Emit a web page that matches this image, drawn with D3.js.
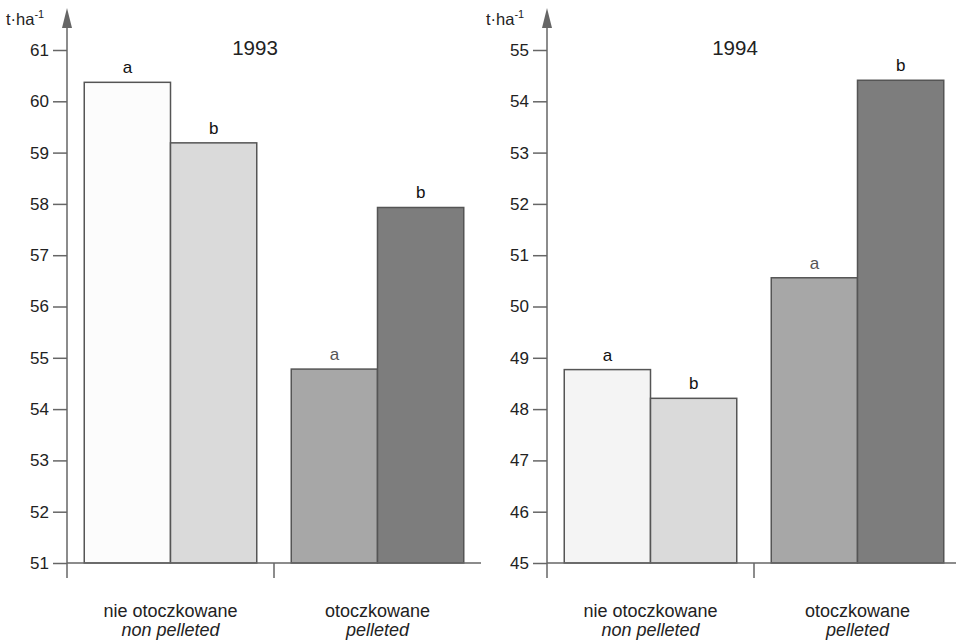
<!DOCTYPE html>
<html>
<head>
<meta charset="utf-8">
<script src="https://cdn.jsdelivr.net/npm/d3@7"></script>
<style>
  body { margin: 0; background: #fff; }
  svg { display: block; font-family: "Liberation Sans", Arial, sans-serif; }
</style>
</head>
<body>
<script>
// groups of seed treatment (PL / EN)
const groupsPl = ['nie otoczkowane', 'otoczkowane'];
const groupsEn = ['non pelleted', 'pelleted'];
const bars = ['g1a', 'g1b', 'g2a', 'g2b'];

const years = ['1993', '1994'];
const values1993 = [60.37, 59.19, 54.78, 57.93];
const values1994 = [48.77, 48.21, 50.56, 54.41];
const letters1993 = ['a', 'b', 'a', 'b'];
const letters1994 = ['a', 'b', 'a', 'b'];
const ticks1993 = [51, 52, 53, 54, 55, 56, 57, 58, 59, 60, 61];
const ticks1994 = [45, 46, 47, 48, 49, 50, 51, 52, 53, 54, 55];

const fills = ['#fcfcfc', '#dadada', '#a7a7a7', '#7d7d7d'];
const fills1994 = ['#f4f4f4', '#dadada', '#a7a7a7', '#7d7d7d'];

const width = 960;
const height = 640;
const axisCol = '#666';
const fontFam = '"Liberation Sans", Arial, sans-serif';

const svg = d3.select('body')
  .append('svg')
  .attr('width', width)
  .attr('height', height);

function drawPanel(opts) {
  const { left, yDomain, ticks, values, letters, title, colors } = opts;
  const top = 50;
  const bottom = 563;
  const g = svg.append('g');

  const y = d3.scaleLinear().domain(yDomain).range([bottom, top]);

  const x0 = d3.scaleBand()
    .domain(groupsPl)
    .range([left, left + 414])
    .paddingInner(0)
    .paddingOuter(0);

  const x1 = d3.scaleBand()
    .domain([0, 1])
    .range([0, x0.bandwidth()])
    .paddingOuter(0.2)
    .paddingInner(0);

  const data = values.map((v, i) => ({
    key: bars[i],
    group: groupsPl[Math.floor(i / 2)],
    sub: i % 2,
    value: v,
    letter: letters[i],
    fill: colors[i],
  }));

  // bars
  g.selectAll('rect.bar')
    .data(data)
    .enter()
    .append('rect')
    .attr('class', 'bar')
    .attr('x', (d) => x0(d.group) + x1(d.sub))
    .attr('y', (d) => y(d.value))
    .attr('width', x1.bandwidth())
    .attr('height', (d) => y(yDomain[0]) - y(d.value))
    .attr('fill', (d) => d.fill)
    .attr('stroke', '#555')
    .attr('stroke-width', 1.5);

  // significance letters
  g.selectAll('text.letter')
    .data(data)
    .enter()
    .append('text')
    .attr('class', 'letter')
    .attr('x', (d) => x0(d.group) + x1(d.sub) + x1.bandwidth() / 2)
    .attr('y', (d) => y(d.value) - 9)
    .attr('text-anchor', 'middle')
    .attr('font-size', 17)
    .attr('fill', (d) => (d.sub === 0 && d.group === groupsPl[1] ? '#555' : '#111'))
    .text((d) => d.letter);

  // y axis
  const yAxis = g.append('g')
    .attr('transform', `translate(${left},0)`)
    .call(d3.axisLeft(y).tickValues(ticks).tickSize(14).tickPadding(4).tickFormat(d3.format('d')));
  yAxis.select('.domain').remove();
  yAxis.selectAll('.tick line').attr('stroke', axisCol).attr('stroke-width', 1.5);
  yAxis.attr('font-size', 17).attr('font-family', fontFam);
  yAxis.selectAll('.tick text').attr('fill', '#222');

  // vertical axis line with arrow head
  g.append('line')
    .attr('x1', left).attr('x2', left)
    .attr('y1', 24).attr('y2', bottom + 15)
    .attr('stroke', axisCol).attr('stroke-width', 1.5);
  g.append('path')
    .attr('d', `M${left},8 L${left - 5},28 L${left + 5},28 Z`)
    .attr('fill', axisCol);

  // baseline + group divider tick
  g.append('line')
    .attr('x1', left).attr('x2', Math.min(left + 414, width - 4))
    .attr('y1', bottom).attr('y2', bottom)
    .attr('stroke', axisCol).attr('stroke-width', 1.5);
  g.append('line')
    .attr('x1', left + x0.bandwidth()).attr('x2', left + x0.bandwidth())
    .attr('y1', bottom).attr('y2', bottom + 15)
    .attr('stroke', axisCol).attr('stroke-width', 1.5);

  // unit label
  const unit = g.append('text')
    .attr('x', left - 61)
    .attr('y', 25)
    .attr('font-size', 16.5)
    .attr('fill', '#222');
  unit.append('tspan').text('t·ha');
  unit.append('tspan').attr('dy', -7).attr('font-size', 11).text('-1');

  // year title
  g.append('text')
    .attr('x', left + 188)
    .attr('y', 55)
    .attr('text-anchor', 'middle')
    .attr('font-size', 20.5)
    .attr('fill', '#222')
    .text(title);

  // category labels
  const cats = g.selectAll('text.cat')
    .data(groupsPl)
    .enter()
    .append('text')
    .attr('class', 'cat')
    .attr('x', (d) => x0(d) + x0.bandwidth() / 2)
    .attr('y', 617)
    .attr('text-anchor', 'middle')
    .attr('font-size', 18)
    .attr('fill', '#222');
  cats.append('tspan').text((d) => d);
  cats.append('tspan')
    .attr('x', (d) => x0(d) + x0.bandwidth() / 2)
    .attr('dy', 19)
    .attr('font-style', 'italic')
    .text((d, i) => groupsEn[i]);
}

drawPanel({
  left: 67,
  yDomain: [ticks1993[0], ticks1993[ticks1993.length - 1]],
  ticks: ticks1993,
  values: values1993,
  letters: letters1993,
  title: years[0],
  colors: fills,
});

drawPanel({
  left: 547,
  yDomain: [ticks1994[0], ticks1994[ticks1994.length - 1]],
  ticks: ticks1994,
  values: values1994,
  letters: letters1994,
  title: years[1],
  colors: fills1994,
});
</script>
</body>
</html>
